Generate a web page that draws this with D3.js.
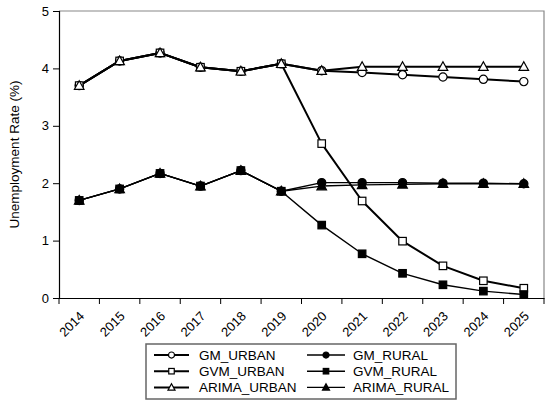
<!DOCTYPE html>
<html><head><meta charset="utf-8">
<script src="https://cdn.jsdelivr.net/npm/d3@7"></script>
<style>body{margin:0;background:#fff}text{font-family:"Liberation Sans",Arial,sans-serif}</style>
</head><body><svg id="c" width="550" height="405"></svg>
<script>
const years = ["2014","2015","2016","2017","2018","2019","2020","2021","2022","2023","2024","2025"];
const yTicks = [0,1,2,3,4,5];
const GM_URBAN    = [3.70,4.13,4.27,4.02,3.95,4.08,3.96,3.93,3.89,3.85,3.81,3.77];
const GM_RURAL    = [1.70,1.90,2.17,1.95,2.22,1.86,2.01,2.01,2.01,2.00,2.00,1.99];
const GVM_URBAN   = [3.70,4.13,4.27,4.02,3.95,4.08,2.69,1.69,0.99,0.56,0.30,0.17];
const GVM_RURAL   = [1.70,1.90,2.17,1.95,2.22,1.86,1.27,0.77,0.43,0.23,0.12,0.06];
const ARIMA_URBAN = [3.70,4.13,4.27,4.02,3.95,4.08,3.96,4.03,4.03,4.03,4.03,4.03];
const ARIMA_RURAL = [1.70,1.90,2.17,1.95,2.22,1.86,1.95,1.97,1.98,1.99,1.99,1.99];

const series = [
  {name:"GM_URBAN", values:GM_URBAN, shape:"circle", fill:"#fff", w:2},
  {name:"GM_RURAL", values:GM_RURAL, shape:"circle", fill:"#000", w:1.4},
  {name:"GVM_URBAN", values:GVM_URBAN, shape:"square", fill:"#fff", w:2},
  {name:"GVM_RURAL", values:GVM_RURAL, shape:"square", fill:"#000", w:1.4},
  {name:"ARIMA_URBAN", values:ARIMA_URBAN, shape:"triangle", fill:"#fff", w:2},
  {name:"ARIMA_RURAL", values:ARIMA_RURAL, shape:"triangle", fill:"#000", w:1.4}
];

const svg = d3.select("#c");
const L=59, R=544, T=11, B=298;
const x = d3.scaleBand().domain(years).range([L,R]);
const y = d3.scaleLinear().domain([0,5]).range([B,T]);

svg.append("path").attr("d",`M${L},${T}H${R}V${B}`).attr("fill","none").attr("stroke","#888").attr("stroke-width",1.2);

const ya = svg.append("g").attr("transform",`translate(${L},0)`)
  .call(d3.axisLeft(y).tickValues(yTicks).tickSize(6).tickPadding(4).tickFormat(d3.format("d")));
ya.select(".domain").attr("stroke","#000").attr("stroke-width",1.2);
ya.selectAll(".tick line").attr("stroke","#000");
ya.selectAll("text").attr("font-size",13).attr("fill","#000");

const xa = svg.append("g").attr("transform",`translate(0,${B})`)
  .call(d3.axisBottom(x).tickSize(0).tickFormat(d=>d));
xa.select(".domain").attr("stroke","#000").attr("stroke-width",1.2);
xa.selectAll("text").attr("font-size",13).attr("fill","#000")
  .attr("text-anchor","end").attr("dy",0).attr("y",0)
  .attr("transform","translate(6,19) rotate(-45)");
const bounds = years.map(d=>x(d)).concat([R]);
svg.append("g").selectAll("line").data(bounds).join("line")
  .attr("x1",d=>d).attr("x2",d=>d).attr("y1",B).attr("y2",B+6).attr("stroke","#000");

svg.append("text").attr("transform",`translate(19,${(T+B)/2}) rotate(-90)`)
  .attr("text-anchor","middle").attr("font-size",13.5).text("Unemployment Rate (%)");

function marker(g, shape, fill, s){
  if(shape==="circle") return g.append("circle").attr("r",s*0.55).attr("fill",fill).attr("stroke","#000").attr("stroke-width",1.2);
  if(shape==="square") return g.append("rect").attr("x",-s/2).attr("y",-s/2).attr("width",s).attr("height",s).attr("fill",fill).attr("stroke","#000").attr("stroke-width",1.2);
  const h=s*1.1;
  return g.append("path").attr("d",`M0,${-h*0.6}L${h*0.58},${h*0.45}L${-h*0.58},${h*0.45}Z`).attr("fill",fill).attr("stroke","#000").attr("stroke-width",1.2);
}

const line = d3.line().x((d,i)=>x(years[i])+x.bandwidth()/2).y(d=>y(d));
series.forEach(s=>{
  svg.append("path").datum(s.values).attr("d",line).attr("fill","none").attr("stroke","#000").attr("stroke-width",s.w).attr("stroke-linejoin","round");
});
series.forEach(s=>{
  s.values.forEach((v,i)=>{
    const g = svg.append("g").attr("transform",`translate(${x(years[i])+x.bandwidth()/2},${y(v)})`);
    marker(g, s.shape, s.fill, 7.5);
  });
});

const lg = svg.append("g");
lg.append("rect").attr("x",146).attr("y",344).attr("width",310).attr("height",55).attr("fill","#fff").attr("stroke","#666").attr("stroke-width",1.5);
series.forEach((s,i)=>{
  const col = i%2, row = Math.floor(i/2);
  const x0 = col===0?154:307, x1 = col===0?189:345, ty = 355+row*16.2;
  lg.append("line").attr("x1",x0).attr("x2",x1).attr("y1",ty).attr("y2",ty).attr("stroke","#000").attr("stroke-width",s.w);
  const g = lg.append("g").attr("transform",`translate(${(x0+x1)/2},${ty})`);
  marker(g, s.shape, s.fill, 5.5);
  lg.append("text").attr("x",col===0?199:353).attr("y",ty).attr("dy","0.36em").attr("font-size",13.5).text(s.name);
});
</script></body></html>
